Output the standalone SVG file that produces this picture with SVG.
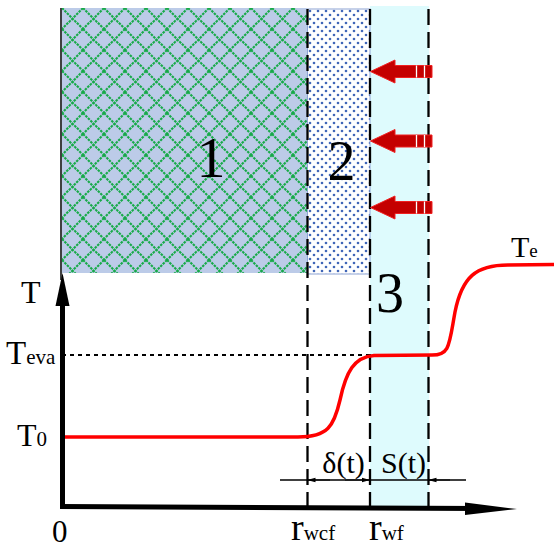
<svg xmlns="http://www.w3.org/2000/svg" width="555" height="549" viewBox="0 0 555 549">
<style>
.t{font-family:"Liberation Serif","Times New Roman",serif;fill:#000}
.dash{stroke:#000;stroke-width:2.3;stroke-dasharray:16 7;fill:none}
.arr{fill:#c40000;stroke:#f02020;stroke-width:1}
.sep{stroke:#fff;stroke-width:1.3}
</style>
<defs>
<pattern id="lattice" width="21" height="21" patternUnits="userSpaceOnUse" x="62" y="8">
<rect width="21" height="21" fill="#bccbe8"/>
<path d="M0,0 L21,21 M21,0 L0,21" stroke="#16aa48" stroke-width="2.1" stroke-dasharray="2.5 1" fill="none"/>
</pattern>
<pattern id="dots" width="8" height="8" patternUnits="userSpaceOnUse" x="308" y="9">
<rect width="8" height="8" fill="#fff"/>
<circle cx="2" cy="2" r="1.3" fill="#4066b8"/>
<circle cx="6" cy="6" r="1.3" fill="#4066b8"/>
</pattern>
<marker id="tick" markerWidth="8" markerHeight="6" refX="8" refY="3" orient="auto" markerUnits="userSpaceOnUse">
<path d="M0,0.8 L8,3 L0,5.2 Z" fill="#000"/>
</marker>
</defs>

<g id="region3"><rect x="370" y="6" width="59" height="501" fill="#defbfd"/></g>
<g id="region1"><rect x="62" y="8" width="245" height="265" fill="url(#lattice)"/></g>
<g id="region2"><rect x="307.5" y="9" width="62.5" height="265" fill="url(#dots)" stroke="#8ea4d4" stroke-width="1"/></g>

<g id="connectors">
<line x1="61" y1="8" x2="61" y2="280" stroke="#000" stroke-width="1.5"/>
<line class="dash" x1="307.5" y1="9" x2="307.5" y2="506"/>
<line class="dash" x1="370" y1="9" x2="370" y2="506"/>
<line class="dash" x1="428.5" y1="9" x2="428.5" y2="506"/>
<line x1="62" y1="355" x2="430" y2="355" stroke="#000" stroke-width="2" stroke-dasharray="4 4"/>
<path d="M62,437 L298,437 C328,437 334,426 340,400 C346,372 354,357 374,355.5 L432,355 C450,355 449,345 455,312 C462,277 476,265 508,265 L554,264.5" fill="none" stroke="#f00" stroke-width="3.5"/>
<line x1="280" y1="480" x2="466" y2="480" stroke="#000" stroke-width="1.3"/>
<line x1="330" y1="480" x2="307.5" y2="480" stroke="#000" stroke-width="1" marker-end="url(#tick)"/>
<line x1="345" y1="480" x2="370" y2="480" stroke="#000" stroke-width="1" marker-end="url(#tick)"/>
<line x1="450" y1="480" x2="428.5" y2="480" stroke="#000" stroke-width="1" marker-end="url(#tick)"/>
<line x1="62.5" y1="508.5" x2="62.5" y2="300" stroke="#000" stroke-width="5"/>
<polygon points="62.5,273 69.5,306 55.5,306" fill="#000"/>
<path d="M60,506.5 L480,508.5" stroke="#000" stroke-width="5" fill="none"/>
<polygon points="465,502.5 517,509 465,515" fill="#000"/>
</g>

<g id="heat-arrows">
<g id="arrow1"><polygon class="arr" points="370.5,71.5 395,60 395,65.5 432,65.5 432,77.5 395,77.5 395,83"/><line class="sep" x1="416.5" y1="65.5" x2="416.5" y2="77.5"/><line class="sep" x1="424.5" y1="65.5" x2="424.5" y2="77.5"/></g>
<g id="arrow2"><polygon class="arr" points="370.5,141 395,129.5 395,135 432,135 432,147 395,147 395,152.5"/><line class="sep" x1="416.5" y1="135" x2="416.5" y2="147"/><line class="sep" x1="424.5" y1="135" x2="424.5" y2="147"/></g>
<g id="arrow3"><polygon class="arr" points="370.5,207.5 395,196 395,201.5 432,201.5 432,213.5 395,213.5 395,219"/><line class="sep" x1="416.5" y1="201.5" x2="416.5" y2="213.5"/><line class="sep" x1="424.5" y1="201.5" x2="424.5" y2="213.5"/></g>
</g>

<g id="labels">
<text class="t" x="211" y="177" font-size="58" text-anchor="middle">1</text>
<text class="t" x="341.5" y="180" font-size="56" text-anchor="middle">2</text>
<text class="t" x="390" y="312" font-size="56" text-anchor="middle">3</text>
<text class="t" x="21" y="303" font-size="32">T</text>
<text class="t" x="6" y="364" font-size="33">T<tspan font-size="21">eva</tspan></text>
<text class="t" x="17" y="446" font-size="32">T<tspan font-size="21">0</tspan></text>
<text class="t" x="511" y="257" font-size="30">T<tspan font-size="19">e</tspan></text>
<text class="t" x="52" y="542" font-size="31">0</text>
<text class="t" x="291" y="540" font-size="38">r<tspan font-size="21">wcf</tspan></text>
<text class="t" x="369" y="540" font-size="38">r<tspan font-size="21">wf</tspan></text>
<text class="t" x="343.5" y="473" font-size="30" text-anchor="middle">δ(t)</text>
<text class="t" x="403.5" y="473" font-size="30" text-anchor="middle">S(t)</text>
</g>
</svg>
